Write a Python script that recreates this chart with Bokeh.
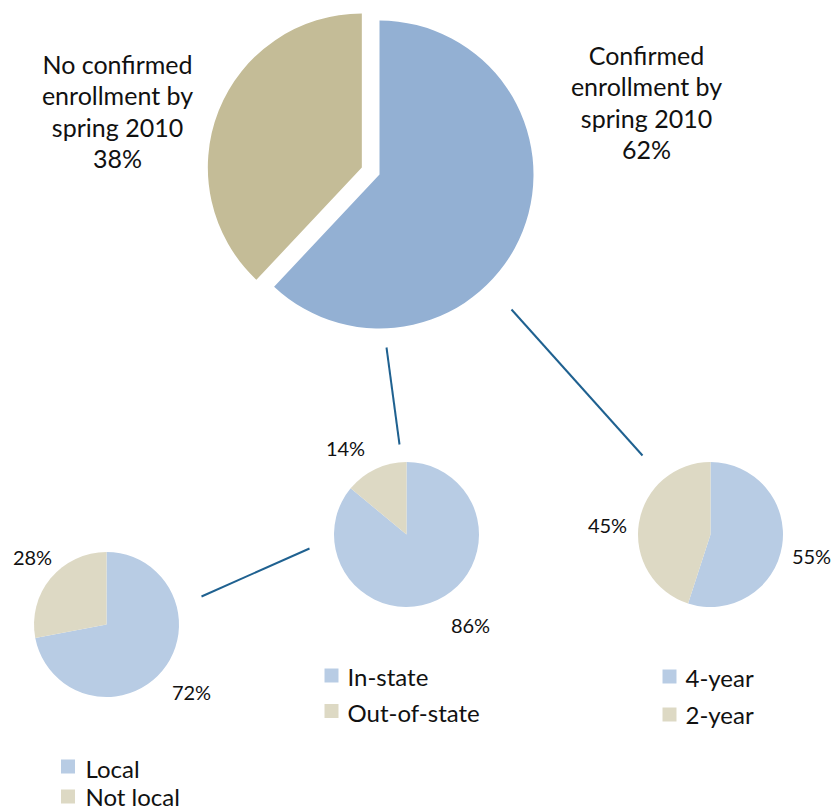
import math
from bokeh.plotting import figure
from bokeh.models import Range1d
from bokeh.core.properties import value
from bokeh.embed import file_html
from bokeh.resources import INLINE

# ---------------- data ----------------
main_labels = [["Confirmed", "enrollment by", "spring 2010"],
               ["No confirmed", "enrollment by", "spring 2010"]]
main_values = [62, 38]

state_labels = ["In-state", "Out-of-state"]
state_values = [86, 14]

type_labels = ["4-year", "2-year"]
type_values = [55, 45]

local_labels = ["Local", "Not local"]
local_values = [72, 28]

# ---------------- styles ----------------
MAIN_COLORS = ["#93B0D3", "#C4BC97"]
SMALL_COLORS = ["#B8CCE4", "#DDD9C4"]
LINE_COLOR = "#1F6190"
FONT = "Lato"
FS_MAIN = "25px"
FS_SMALL = "20px"
FS_LEG = "24px"
TXT = "#111111"
TEXT_SHIFT = 9   # compensation for rendered baseline offset

W, H = 833, 811


def Y(img_y):
    # convert a page-pixel row into data y (y axis points up)
    return H - img_y


p = figure(width=W, height=H, x_range=Range1d(0, W), y_range=Range1d(0, H),
           output_backend="svg", toolbar_location=None, min_border=0,
           x_axis_type=None, y_axis_type=None)
p.grid.visible = False
p.outline_line_color = None
p.background_fill_color = "white"
p.border_fill_color = "white"


def pie(cx, cy, r, values, colors, explode=None):
    total = float(sum(values))
    c = 0.0
    for i, v in enumerate(values):
        a0 = 90 - 360 * (c + v) / total
        a1 = 90 - 360 * c / total
        dx = dy = 0.0
        if explode and explode[i]:
            mid = math.radians((a0 + a1) / 2)
            dx = explode[i] * math.cos(mid)
            dy = explode[i] * math.sin(mid)
        p.wedge(x=cx + dx, y=cy + dy, radius=r, start_angle=a0, end_angle=a1,
                start_angle_units="deg", end_angle_units="deg",
                direction="anticlock", fill_color=colors[i], line_color=None)
        c += v


def label(x, y_img, txt, size, align="center"):
    p.text(x=[x], y=[Y(y_img - TEXT_SHIFT)], text=[txt], text_font=value(FONT),
           text_font_size=value(size), text_align=align,
           text_baseline="alphabetic", text_color=TXT)


# connector lines (drawn first, under pies)
connectors = [((386, 347), (399, 444)),
              ((511, 309), (642, 455)),
              ((201, 596), (309, 548))]
for (x0, y0), (x1, y1) in connectors:
    p.line(x=[x0, x1], y=[Y(y0), Y(y1)], line_color=LINE_COLOR, line_width=2)

# main pie
pie(379, Y(174), 154, main_values, MAIN_COLORS, explode=[0, 19])

# small pies
pie(406, Y(534), 72.5, state_values, SMALL_COLORS)
pie(710, Y(534), 72.5, type_values, SMALL_COLORS)
pie(106, Y(624), 72.5, local_values, SMALL_COLORS)

# main labels
for i, (cx, base) in enumerate([(646, 63), (117, 72)]):
    lines = main_labels[i] + ["%d%%" % main_values[i]]
    for k, ln in enumerate(lines):
        label(cx, base + k * 31.5, ln, FS_MAIN)

# small pie percentage labels
small_pos = [
    (state_values, [(470, 633), (345, 456)]),
    (type_values, [(811, 564), (607, 533)]),
    (local_values, [(191, 700), (32, 565)]),
]
for vals, poss in small_pos:
    for v, (x, yb) in zip(vals, poss):
        label(x, yb, "%d%%" % v, FS_SMALL)

# legends
legends = [
    (state_labels, 331, [675, 710.5], 347, [685, 721]),
    (type_labels, 669, [676, 714], 685, [686, 723]),
    (local_labels, 67.5, [766, 796], 85, [777, 805]),
]
for labs, sx, sys_, tx, tys in legends:
    p.rect(x=[sx] * len(labs), y=[Y(v) for v in sys_], width=14, height=14,
           fill_color=SMALL_COLORS[:len(labs)], line_color=None)
    for lab, ty in zip(labs, tys):
        label(tx, ty, lab, FS_LEG, align="left")

open("out.html", "w").write(file_html(p, INLINE))
